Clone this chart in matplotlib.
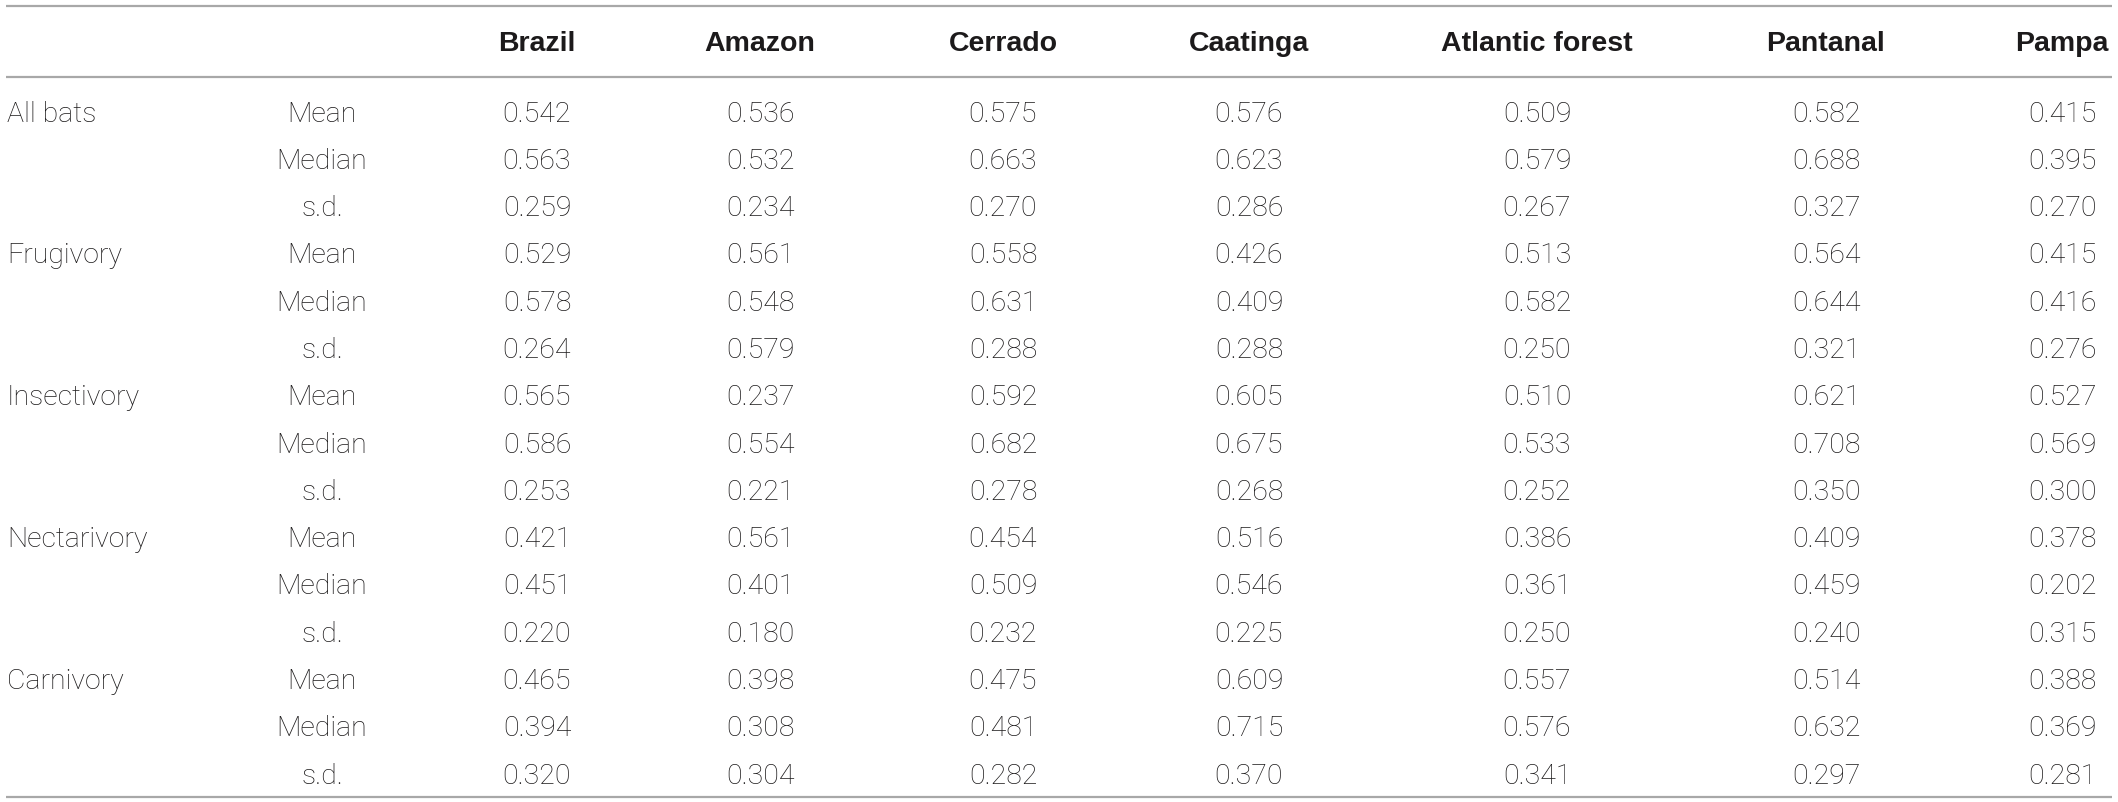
import matplotlib
matplotlib.use("Agg")
import matplotlib.pyplot as plt

# table content
regions = ["Brazil", "Amazon", "Cerrado", "Caatinga", "Atlantic forest", "Pantanal", "Pampa"]
groups = ["All bats", "Frugivory", "Insectivory", "Nectarivory", "Carnivory"]
stats = ["Mean", "Median", "s.d."]

brazil = [0.542, 0.563, 0.259, 0.529, 0.578, 0.264, 0.565, 0.586, 0.253, 0.421, 0.451, 0.220, 0.465, 0.394, 0.320]
amazon = [0.536, 0.532, 0.234, 0.561, 0.548, 0.579, 0.237, 0.554, 0.221, 0.561, 0.401, 0.180, 0.398, 0.308, 0.304]
cerrado = [0.575, 0.663, 0.270, 0.558, 0.631, 0.288, 0.592, 0.682, 0.278, 0.454, 0.509, 0.232, 0.475, 0.481, 0.282]
caatinga = [0.576, 0.623, 0.286, 0.426, 0.409, 0.288, 0.605, 0.675, 0.268, 0.516, 0.546, 0.225, 0.609, 0.715, 0.370]
atlantic = [0.509, 0.579, 0.267, 0.513, 0.582, 0.250, 0.510, 0.533, 0.252, 0.386, 0.361, 0.250, 0.557, 0.576, 0.341]
pantanal = [0.582, 0.688, 0.327, 0.564, 0.644, 0.321, 0.621, 0.708, 0.350, 0.409, 0.459, 0.240, 0.514, 0.632, 0.297]
pampa = [0.415, 0.395, 0.270, 0.415, 0.416, 0.276, 0.527, 0.569, 0.300, 0.378, 0.202, 0.315, 0.388, 0.369, 0.281]

columns = [brazil, amazon, cerrado, caatinga, atlantic, pantanal, pampa]

# layout (pixel coordinates of the 2118x802 canvas)
W, H = 2118, 802
col_x = [537, 760, 1003, 1249, 1537, 1826, 2062]
group_x = 7
stat_x = 322
header_y = 44
row0_y = 114
row_step = 47.3
fs = 20.5
txt_color = "#1c1a1b"
line_color = "#a8a8a8"

plt.rcParams["font.family"] = ["Liberation Sans", "DejaVu Sans"]
body_font = ["Roboto", "Liberation Sans", "DejaVu Sans"]

fig = plt.figure(figsize=(W / 100, H / 100), dpi=100)
ax = fig.add_axes([0, 0, 1, 1])
ax.set_xlim(0, W)
ax.set_ylim(H, 0)
ax.axis("off")

# rules
for y in [6, 77, 797]:
    ax.plot([6, 2112], [y, y], color=line_color, lw=1.6, solid_capstyle="butt")

# header
for x, name in zip(col_x, regions):
    ax.text(x, header_y, name, ha="center", va="center", fontsize=fs,
            fontweight="bold", color=txt_color)

# body
for i in range(len(groups) * len(stats)):
    y = row0_y + i * row_step
    if i % 3 == 0:
        ax.text(group_x, y, groups[i // 3], ha="left", va="center",
                fontsize=fs, color=txt_color, family=body_font, fontweight="light")
    ax.text(stat_x, y, stats[i % 3], ha="center", va="center",
            fontsize=fs, color=txt_color, family=body_font, fontweight="light")
    for x, col in zip(col_x, columns):
        ax.text(x, y, f"{col[i]:.3f}", ha="center", va="center",
                fontsize=fs, color=txt_color, family=body_font, fontweight="light")

fig.savefig("out.png", dpi=100, facecolor="white")
